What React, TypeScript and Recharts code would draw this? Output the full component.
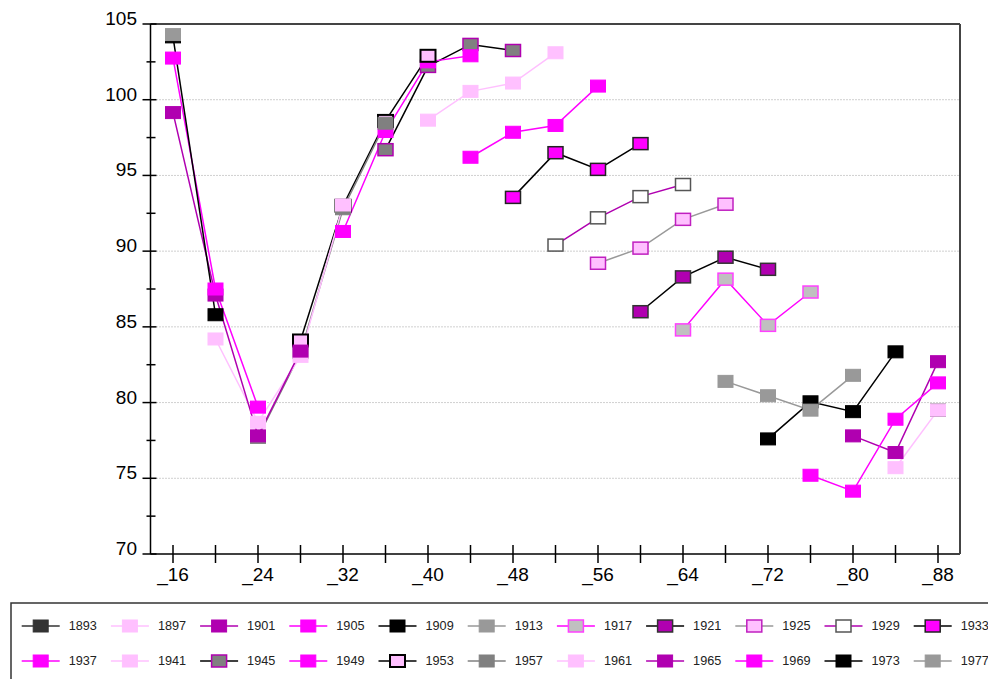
import React from 'react'
import { LineChart, Line, XAxis, YAxis, CartesianGrid } from 'recharts'

const categories = ['_16', '_20', '_24', '_28', '_32', '_36', '_40', '_44', '_48', '_52', '_56', '_60', '_64', '_68', '_72', '_76', '_80', '_84', '_88']
const labelledTicks = ['_16', '_24', '_32', '_40', '_48', '_56', '_64', '_72', '_80', '_88']
const yTicks = [70, 72.5, 75, 77.5, 80, 82.5, 85, 87.5, 90, 92.5, 95, 97.5, 100, 102.5, 105]
const gridValues = [75, 80, 85, 90, 95, 100]

const cohorts = ['1893', '1897', '1901', '1905', '1909', '1913', '1917', '1921', '1925', '1929', '1933',
  '1937', '1941', '1945', '1949', '1953', '1957', '1961', '1965', '1969', '1973', '1977']

// first category where each cohort has a value
const cohortStart = ['_88', '_84', '_80', '_76', '_72', '_68', '_64', '_60', '_56', '_52', '_48',
  '_44', '_40', '_36', '_32', '_28', '_24', '_20', '_16', '_16', '_16', '_16']

const v1893 = [79.5]
const v1897 = [75.7, 79.5]
const v1901 = [77.8, 76.7, 82.7]
const v1905 = [75.2, 74.15, 78.9, 81.3]
const v1909 = [77.6, 80.05, 79.4, 83.35]
const v1913 = [81.4, 80.45, 79.5, 81.8]
const v1917 = [84.8, 88.15, 85.1, 87.3]
const v1921 = [86.0, 88.3, 89.6, 88.8]
const v1925 = [89.2, 90.2, 92.1, 93.1]
const v1929 = [90.4, 92.2, 93.6, 94.4]
const v1933 = [93.55, 96.5, 95.4, 97.1]
const v1937 = [96.2, 97.85, 98.3, 100.9]
const v1941 = [98.65, 100.55, 101.1, 103.1]
const v1945 = [96.7, 102.2, 103.65, 103.25]
const v1949 = [91.3, 97.9, 102.5, 102.9]
const v1953 = [84.1, 93.0, 98.6, 102.9]
const v1957 = [77.7, 83.3, 92.8, 98.45]
const v1961 = [84.2, 78.7, 83.05, 93.05]
const v1965 = [99.15, 87.1, 77.8, 83.4]
const v1969 = [102.75, 87.5, 79.7]
const v1973 = [104.15, 85.8]
const v1977 = [104.3]

const cohortValues = [v1893, v1897, v1901, v1905, v1909, v1913, v1917, v1921, v1925, v1929, v1933,
  v1937, v1941, v1945, v1949, v1953, v1957, v1961, v1965, v1969, v1973, v1977]

const data = categories.map((cat, i) => {
  const row: any = { cat }
  cohorts.forEach((c, k) => {
    const j = i - categories.indexOf(cohortStart[k])
    const vals = cohortValues[k]
    row[c] = j >= 0 && j < vals.length ? vals[j] : null
  })
  return row
})

const PINK = '#FFC0FF'
const PURPLE = '#B000B0'
const MAGENTA = '#FF00FF'

// line colour, marker fill, marker border, border width
const styles = [
  { line: '#333333', fill: '#333333', border: '#333333', bw: 1 },
  { line: PINK, fill: PINK, border: PINK, bw: 1 },
  { line: PURPLE, fill: PURPLE, border: PURPLE, bw: 1 },
  { line: MAGENTA, fill: MAGENTA, border: MAGENTA, bw: 1 },
  { line: '#000000', fill: '#000000', border: '#000000', bw: 1 },
  { line: '#999999', fill: '#999999', border: '#999999', bw: 1 },
  { line: MAGENTA, fill: '#C0C0C0', border: '#FF40FF', bw: 1.5 },
  { line: '#000000', fill: PURPLE, border: '#333333', bw: 1.5 },
  { line: '#999999', fill: PINK, border: '#C020C0', bw: 1.5 },
  { line: PURPLE, fill: '#FFFFFF', border: '#555555', bw: 1.5 },
  { line: '#000000', fill: MAGENTA, border: '#222222', bw: 1.5 },
  { line: MAGENTA, fill: MAGENTA, border: MAGENTA, bw: 1 },
  { line: PINK, fill: PINK, border: PINK, bw: 1 },
  { line: '#000000', fill: '#808080', border: PURPLE, bw: 1.5 },
  { line: MAGENTA, fill: MAGENTA, border: MAGENTA, bw: 1 },
  { line: '#000000', fill: PINK, border: '#000000', bw: 2 },
  { line: '#808080', fill: '#808080', border: '#808080', bw: 1 },
  { line: PINK, fill: PINK, border: PINK, bw: 1 },
  { line: PURPLE, fill: PURPLE, border: PURPLE, bw: 1 },
  { line: MAGENTA, fill: MAGENTA, border: MAGENTA, bw: 1 },
  { line: '#000000', fill: '#000000', border: '#000000', bw: 1 },
  { line: '#999999', fill: '#999999', border: '#999999', bw: 1 },
]

const FONT = '"Liberation Sans", Arial, sans-serif'

const Marker = ({ x, y, st }: any) => (
  <rect x={x - 7.5} y={y - 6} width={15} height={12} fill={st.fill} stroke={st.border} strokeWidth={st.bw} />
)

const makeDot = (st: any, name: string) => (props: any) => {
  const { cx, cy, index, value } = props
  const k = `${name}-${index}`
  if (value == null || !Number.isFinite(cx) || !Number.isFinite(cy)) return <g key={k} />
  return <g key={k}><Marker x={cx} y={cy} st={st} /></g>
}

const YTick = (props: any) => {
  const { x, y, payload } = props
  const major = payload.value % 5 === 0
  return (
    <g>
      <line x1={major ? x - 8 : x - 4} x2={major ? x + 6 : x + 5} y1={y} y2={y} stroke="#000" strokeWidth={1.5} />
      {major && (
        <text x={x - 13.5} y={y + 1} textAnchor="end" fontSize={19} fontFamily={FONT} fill="#000">
          {payload.value}
        </text>
      )}
    </g>
  )
}

const XTick = (props: any) => {
  const { x, y, payload } = props
  return (
    <g>
      <line x1={x} x2={x} y1={y - 9} y2={y + 9} stroke="#000" strokeWidth={1.5} />
      {labelledTicks.includes(payload.value) && (
        <text x={x} y={y + 27} textAnchor="middle" fontSize={19} fontFamily={FONT} fill="#000">
          {payload.value}
        </text>
      )}
    </g>
  )
}

const LegendBox = () => (
  <svg width={988} height={81} style={{ position: 'absolute', left: 0, top: 590 }}>
    <rect x={3} y={5} width={1000} height={120} fill="none" stroke="#333" strokeWidth={1.5} />
    {cohorts.map((c, k) => {
      const col = k % 11
      const row = Math.floor(k / 11)
      const cx = 32.7 + col * 89.2
      const cy = 28 + row * 35
      const st = styles[k]
      return (
        <g key={c}>
          <line x1={cx - 19} x2={cx + 19} y1={cy} y2={cy} stroke={st.line} strokeWidth={1.5} />
          <Marker x={cx} y={cy} st={st} />
          <text x={cx + 28} y={cy} dominantBaseline="central" fontSize={12.7} fontFamily={FONT} fill="#222">
            {c}
          </text>
        </g>
      )
    })}
  </svg>
)

export default function App() {
  return (
    <div style={{ position: 'relative', width: 988, height: 671, overflow: 'hidden' }}>
      <LineChart width={988} height={590} data={data} margin={{ top: 15, right: 35, bottom: 0, left: 0 }}>
        <CartesianGrid vertical={false} horizontalValues={gridValues} stroke="#a0a0a0" strokeDasharray="1 2" />
        <XAxis
          dataKey="cat"
          interval={0}
          padding={{ left: 22.5, right: 22 }}
          height={44}
          tickSize={0}
          tickMargin={0}
          tickLine={false}
          tick={<XTick />}
          axisLine={{ stroke: '#000', strokeWidth: 1.5 }}
        />
        <XAxis
          xAxisId="top"
          dataKey="cat"
          orientation="top"
          height={1}
          tickSize={0}
          tick={false}
          tickLine={false}
          axisLine={{ stroke: '#444', strokeWidth: 2 }}
        />
        <YAxis
          type="number"
          domain={[70, 105]}
          ticks={yTicks}
          interval={0}
          width={142.5}
          tickSize={0}
          tickMargin={0}
          tickLine={false}
          tick={<YTick />}
          axisLine={{ stroke: '#000', strokeWidth: 1.5 }}
        />
        <YAxis
          yAxisId="right"
          orientation="right"
          type="number"
          domain={[70, 105]}
          width={1}
          tickSize={0}
          tick={false}
          tickLine={false}
          axisLine={{ stroke: '#444', strokeWidth: 2 }}
        />
        {cohorts.map((c, k) => (
          <Line
            key={c}
            dataKey={c}
            stroke={styles[k].line}
            strokeWidth={1.5}
            dot={makeDot(styles[k], c)}
            activeDot={false}
            isAnimationActive={false}
          />
        ))}
      </LineChart>
      <LegendBox />
    </div>
  )
}
